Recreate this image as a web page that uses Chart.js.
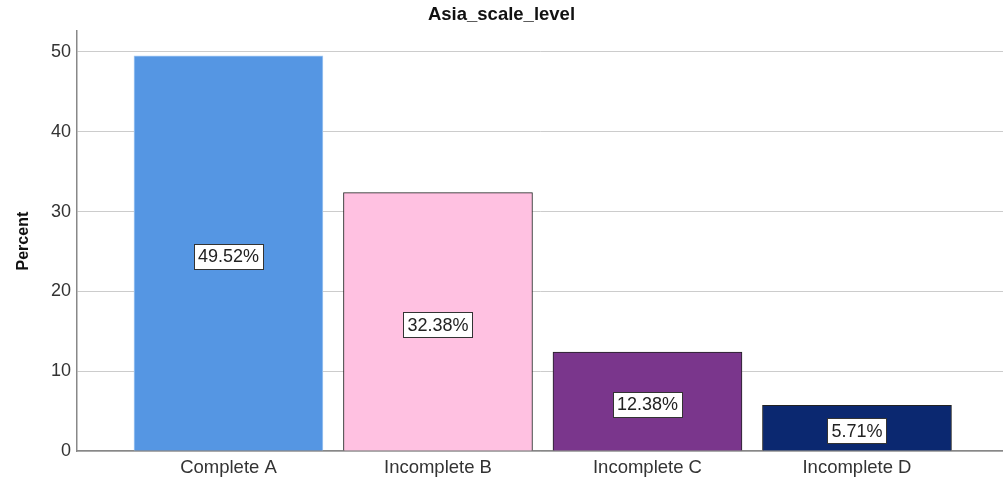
<!DOCTYPE html>
<html>
<head>
<meta charset="utf-8">
<script src="https://cdn.jsdelivr.net/npm/chart.js@4"></script>
<style>
  html, body { margin: 0; padding: 0; background: #fff; }
  #wrap { width: 1003px; height: 481px; }
</style>
</head>
<body>
<div id="wrap"><canvas id="c" width="1003" height="481"></canvas></div>
<script>
// Asia_scale_level distribution (percent of cases)
const categories = ['Complete A', 'Incomplete B', 'Incomplete C', 'Incomplete D'];
const percents = [49.52, 32.38, 12.38, 5.71];
const yTicks = [0, 10, 20, 30, 40, 50];
const barColors = ['#5596e3', '#ffc1e1', '#7a368c', '#0b2870'];
const barBorders = ['#a7cbf2', '#222222', '#222222', '#222222'];

const FONT = 'Arial, "Liberation Sans", sans-serif';

// Boxed percentage labels in the middle of each bar
const valueBoxes = {
  id: 'valueBoxes',
  afterDatasetsDraw(chart) {
    const ctx = chart.ctx;
    const meta = chart.getDatasetMeta(0);
    ctx.save();
    ctx.font = '18px ' + FONT;
    ctx.textAlign = 'center';
    ctx.textBaseline = 'middle';
    meta.data.forEach((bar, i) => {
      const text = percents[i].toFixed(2) + '%';
      const cx = bar.x;
      const cy = (bar.y + bar.base) / 2 + 3;
      const w = ctx.measureText(text).width + 8;
      const h = 25;
      const x0 = Math.round(cx - w / 2) + 0.5;
      const y0 = Math.round(cy - h / 2) + 0.5;
      ctx.fillStyle = '#ffffff';
      ctx.fillRect(x0, y0, Math.round(w), h);
      ctx.strokeStyle = '#333333';
      ctx.lineWidth = 1;
      ctx.strokeRect(x0, y0, Math.round(w), h);
      ctx.fillStyle = '#222222';
      ctx.fillText(text, cx, cy + 1);
    });
    ctx.restore();
  }
};

new Chart(document.getElementById('c'), {
  type: 'bar',
  data: {
    datasets: [{
      data: categories.map((c, i) => ({ x: i, y: percents[i] })),
      backgroundColor: barColors,
      borderColor: barBorders,
      borderWidth: 1,
      barThickness: 189
    }]
  },
  options: {
    responsive: false,
    animation: false,
    devicePixelRatio: 1,
    layout: { padding: { left: 0, right: 0, top: 0, bottom: 0 } },
    plugins: {
      legend: { display: false },
      tooltip: { enabled: false },
      title: {
        display: true,
        text: 'Asia_scale_level',
        color: '#111',
        font: { family: FONT, size: 18.5, weight: 'bold' },
        padding: { top: 4, bottom: 5 }
      }
    },
    scales: {
      x: {
        type: 'linear',
        offset: false,
        min: -0.723,
        max: 3.697,
        grid: { display: false, drawTicks: false },
        border: { display: true, color: '#888888', width: 1.5 },
        afterBuildTicks(scale) {
          scale.ticks = categories.map((c, i) => ({ value: i }));
        },
        afterFit(scale) { scale.height = 30; },
        ticks: {
          color: '#333',
          padding: 6,
          autoSkip: false,
          maxRotation: 0,
          font: { family: FONT, size: 18.5 },
          callback: (v) => categories[v]
        }
      },
      y: {
        min: 0,
        max: 52.6,
        afterBuildTicks(scale) {
          scale.ticks = yTicks.map(v => ({ value: v }));
        },
        afterFit(scale) { scale.width = 77; },
        grid: { color: '#cccccc', lineWidth: 1, drawTicks: false },
        border: { display: true, color: '#888888', width: 1.5 },
        ticks: {
          color: '#333',
          padding: 6,
          font: { family: FONT, size: 18 }
        },
        title: {
          display: true,
          text: 'Percent',
          color: '#111',
          font: { family: FONT, size: 16, weight: 'bold' },
          padding: { top: 14, bottom: 0 }
        }
      }
    }
  },
  plugins: [valueBoxes]
});
</script>
</body>
</html>
